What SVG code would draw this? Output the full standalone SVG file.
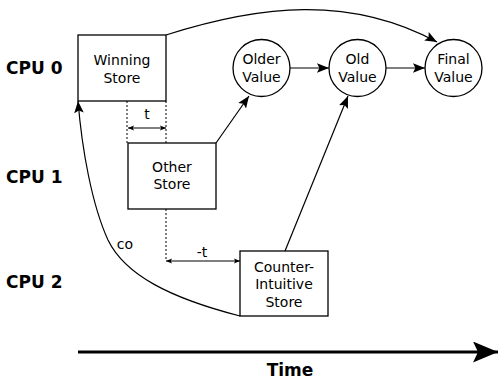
<svg xmlns="http://www.w3.org/2000/svg" width="498" height="380" viewBox="0 0 498 380">
<style>
.box{fill:#fff;stroke:#000;stroke-width:1.3}
.t{font-family:"DejaVu Sans",sans-serif;font-size:14px;text-anchor:middle;fill:#000}
.cpu{font-family:"DejaVu Sans",sans-serif;font-size:17px;font-weight:bold;fill:#000}
.ln{fill:none;stroke:#000;stroke-width:1.2}
.dot{fill:none;stroke:#000;stroke-width:1;stroke-dasharray:2,2}
</style>
<defs>
<marker id="a" viewBox="0 0 10 10" refX="10" refY="5" markerWidth="12" markerHeight="12" markerUnits="userSpaceOnUse" orient="auto-start-reverse"><path d="M0,1 L10,5 L0,9 L2,5 Z" fill="#000"/></marker>
<marker id="s" viewBox="0 0 10 10" refX="10" refY="5" markerWidth="6" markerHeight="6" markerUnits="userSpaceOnUse" orient="auto-start-reverse"><path d="M0,1 L10,5 L0,9 L2,5 Z" fill="#000"/></marker>
<marker id="big" viewBox="0 0 10 10" refX="10" refY="5" markerWidth="25" markerHeight="21" markerUnits="userSpaceOnUse" orient="auto" preserveAspectRatio="none"><path d="M0,0 L10,5 L0,10 L2,5 Z" fill="#000"/></marker>
</defs>
<text class="cpu" x="6" y="74">CPU 0</text>
<text class="cpu" x="6" y="183">CPU 1</text>
<text class="cpu" x="6" y="288">CPU 2</text>
<g id="connectors">
<path class="ln" d="M166,35 C260,5 350,-5 437,42" marker-end="url(#a)"/>
<path class="ln" d="M290,68 L329,68" marker-end="url(#a)"/>
<path class="ln" d="M386,68 L425,68" marker-end="url(#a)"/>
<path class="ln" d="M216,143 L249,96" marker-end="url(#a)"/>
<path class="ln" d="M285,251 L348,96" marker-end="url(#a)"/>
<path class="ln" d="M240,316 C170,298 125,275 108,240 C92,205 82,150 78,101" marker-end="url(#a)"/>
<path class="dot" d="M127,101 L127,143 M166,101 L166,143 M166,209 L166,261"/>
<path class="ln" d="M128,128 L166,128" marker-start="url(#s)" marker-end="url(#s)"/>
<path class="ln" d="M166,261 L240,261" marker-start="url(#s)" marker-end="url(#s)"/>
<path d="M78,352 L498,352" fill="none" stroke="#000" stroke-width="3" marker-end="url(#big)"/>
</g>
<text class="t" x="147" y="119">t</text>
<text class="t" x="202" y="257">-t</text>
<text class="t" x="125" y="249">co</text>
<g id="winning"><rect class="box" x="78" y="35" width="88" height="66"/><text class="t" x="122" y="65">Winning</text><text class="t" x="122" y="83">Store</text></g>
<g id="other"><rect class="box" x="128" y="143" width="88" height="66"/><text class="t" x="172" y="172">Other</text><text class="t" x="172" y="189">Store</text></g>
<g id="counter"><rect class="box" x="240" y="251" width="88" height="65"/><text class="t" x="284" y="272">Counter-</text><text class="t" x="284" y="289">Intuitive</text><text class="t" x="284" y="307">Store</text></g>
<g id="older"><circle class="box" cx="261.5" cy="68" r="28.5"/><text class="t" x="261.5" y="64">Older</text><text class="t" x="261.5" y="82">Value</text></g>
<g id="old"><circle class="box" cx="357.5" cy="68" r="28.5"/><text class="t" x="357.5" y="64">Old</text><text class="t" x="357.5" y="82">Value</text></g>
<g id="final"><circle class="box" cx="453.5" cy="68" r="28.5"/><text class="t" x="453.5" y="64">Final</text><text class="t" x="453.5" y="82">Value</text></g>
<text x="290" y="376" style="font-family:'DejaVu Sans',sans-serif;font-size:17px;font-weight:bold;text-anchor:middle">Time</text>
</svg>
